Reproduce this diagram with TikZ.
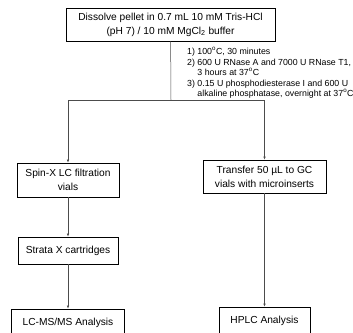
\documentclass[tikz,border=0pt]{standalone}
\usepackage{fontspec}
\setmainfont{Liberation Sans}
\usepackage{tikz}
\usetikzlibrary{arrows.meta}

\begin{document}
\begin{tikzpicture}[x=1pt,y=-1pt,
		stepbox/.style={rectangle,draw,line width=0.8pt,inner sep=0pt,align=center,font=\fontsize{10.2}{14}\selectfont},
		flow/.style={draw=black!70,line width=0.5pt},
		flowarrow/.style={flow,-{Latex[length=3pt,width=2.5pt]}}]
		\useasboundingbox (0,0) rectangle (353,332);

		\node (dissolve)[stepbox,minimum width=209pt,minimum height=33pt] at (170.5,24.5) {Dissolve pellet in 0.7 mL 10 mM Tris-HCl\\(pH 7) / 10 mM MgCl\textsubscript{2} buffer};
		\coordinate (split) at (171,100);

		\node (steps)[anchor=north west,align=left,inner sep=0pt,font=\fontsize{8.8}{9.6}\selectfont] at (187,47) {1) 100\textsuperscript{o}C, 30 minutes\\[1.8pt]
			2) 600 U RNase A and 7000 U RNase T1,\\
			\phantom{2) }3 hours at 37\textsuperscript{o}C\\[1.8pt]
			3) 0.15 U phosphodiesterase I and 600 U\\
			\phantom{3) }alkaline phosphatase, overnight at 37\textsuperscript{o}C};

		% left branch
		\node (spinx)[stepbox,minimum width=102pt,minimum height=34pt] at (68,180) {Spin-X LC filtration\\vials};
		\node (strata)[stepbox,minimum width=100pt,minimum height=27pt] at (68,250.5) {Strata X cartridges};
		\node (lcms)[stepbox,minimum width=113pt,minimum height=27pt] at (68,322.5) {LC-MS/MS Analysis};

		% right branch
		\node (transfer)[stepbox,minimum width=123pt,minimum height=33pt] at (264.5,176.5) {Transfer 50 µL to GC\\vials with microinserts};
		\node (hplc)[stepbox,minimum width=91pt,minimum height=28pt] at (264.5,321) {HPLC Analysis};

		\draw[flow] (dissolve) -- (split);
		\draw[flowarrow] (split) -| (spinx.north);
		\draw[flowarrow] (split) -| (transfer.north);
		\draw[flowarrow] (spinx) -- (strata);
		\draw[flowarrow] (strata) -- (lcms);
		\draw[flowarrow] (transfer) -- (hplc);
	\end{tikzpicture}
\end{document}
